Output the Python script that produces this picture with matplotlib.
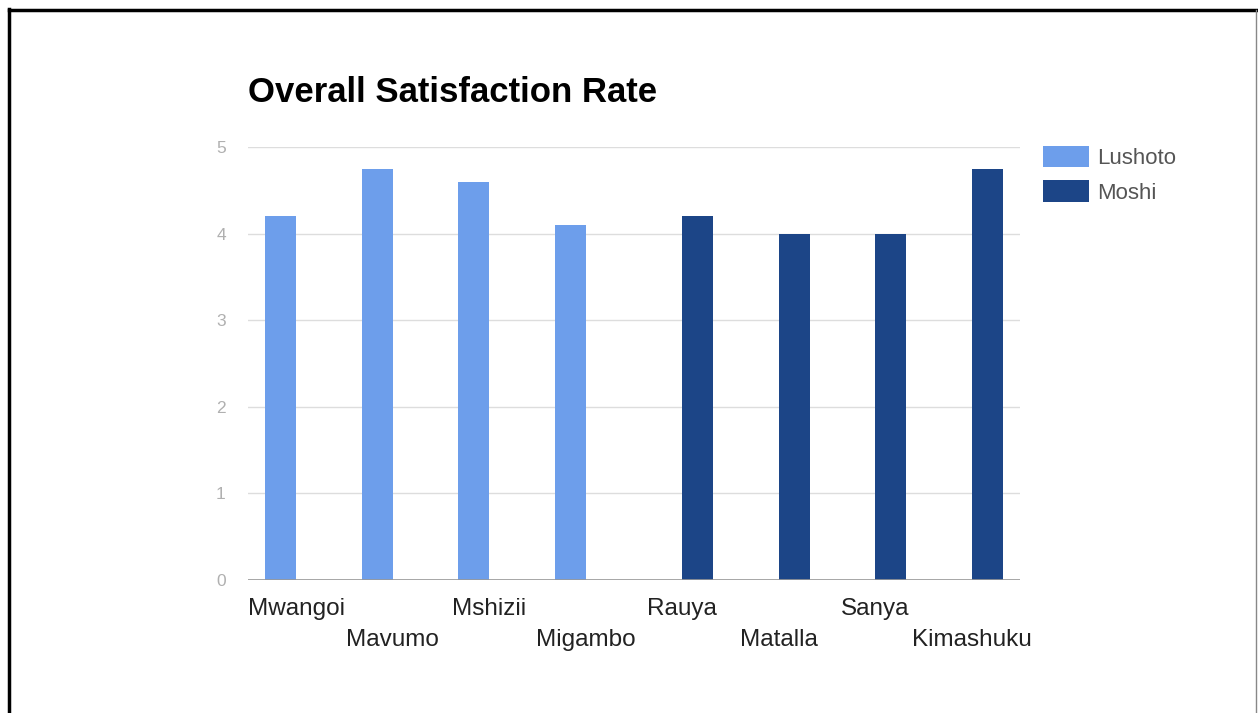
import numpy as np
import matplotlib.pyplot as plt
from matplotlib.lines import Line2D

# data
sites = ['Mwangoi', 'Mavumo', 'Mshizii', 'Migambo', 'Rauya', 'Matalla', 'Sanya', 'Kimashuku']
lushoto = [4.2, 4.75, 4.6, 4.1, np.nan, np.nan, np.nan, np.nan]
moshi = [np.nan, np.nan, np.nan, np.nan, 4.2, 4.0, 4.0, 4.75]
yticks = [0, 1, 2, 3, 4, 5]

plt.rcParams['font.family'] = ['Liberation Sans', 'DejaVu Sans']

W, H = 1258, 713
fig = plt.figure(figsize=(W / 100, H / 100), dpi=100)
ax = fig.add_axes([248 / W, 1 - 580 / H, (1020 - 248) / W, (580 - 147) / H])

x = np.arange(len(sites))
w = 0.32
ax.bar(x - w / 2, lushoto, w, color='#6d9eeb', label='Lushoto', zorder=3)
ax.bar(x + w / 2, moshi, w, color='#1c4587', label='Moshi', zorder=3)

ax.set_xlim(-0.5, len(sites) - 0.5)
ax.set_ylim(0, 5)
ax.set_yticks(yticks)
ax.yaxis.grid(True, color='#dddddd', linewidth=1, zorder=0)
ax.axhline(0, color='#999999', linewidth=1.2, zorder=4)
for s in ax.spines.values():
    s.set_visible(False)

ax.tick_params(axis='y', length=0, pad=16, labelsize=12.5, labelcolor='#b0b0b0')
ax.tick_params(axis='x', length=0, labelsize=17.5, labelcolor='#222222')
ax.set_xticks(x)
ax.set_xticklabels(sites)
for i, t in enumerate(ax.xaxis.get_major_ticks()):
    t.set_pad(13 if i % 2 == 0 else 35.5)

fig.text(248 / W, 1 - 93 / H, 'Overall Satisfaction Rate', fontsize=25,
         fontweight='bold', color='#000000', va='center', ha='left')

fig.legend(loc='upper left', bbox_to_anchor=(1043 / W, 1 - 146 / H), frameon=False,
           fontsize=16, handlelength=2.07, handleheight=1.1, handletextpad=0.36,
           labelspacing=0.5, borderpad=0, borderaxespad=0, labelcolor='#555555')

# picture frame
fig.add_artist(Line2D([9 / W, 9 / W], [0, 1 - 9 / H], color='black', linewidth=2.5))
fig.add_artist(Line2D([9 / W, 1256 / W], [1 - 10 / H, 1 - 10 / H], color='black', linewidth=2.5))
fig.add_artist(Line2D([1256 / W, 1256 / W], [0, 1 - 10 / H], color='#888888', linewidth=1))

fig.savefig('out.png', dpi=100, facecolor='white')
